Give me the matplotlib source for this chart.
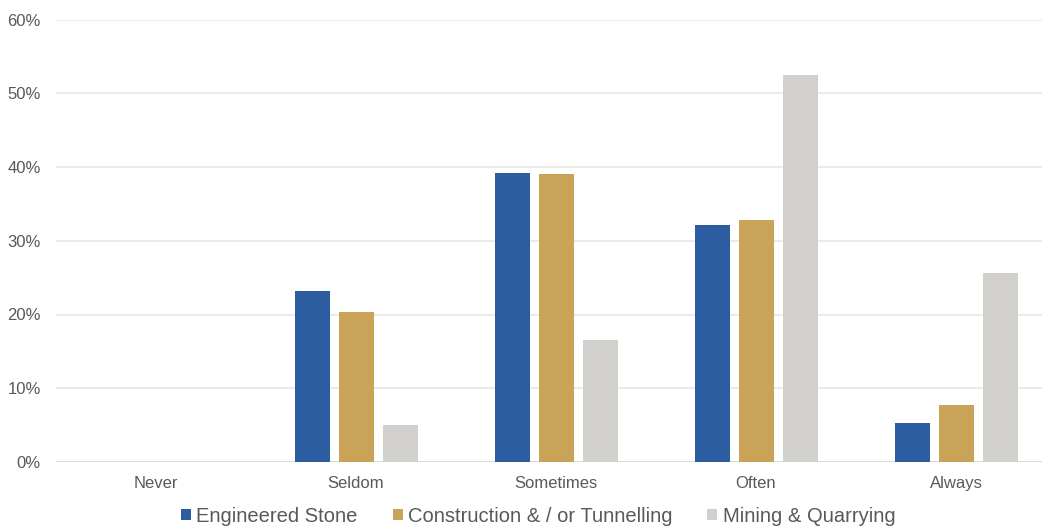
import matplotlib

matplotlib.use("Agg")
import matplotlib.pyplot as plt
import numpy as np
from matplotlib.ticker import PercentFormatter

plt.rcParams["font.family"] = ["Liberation Sans", "DejaVu Sans"]

CATEGORIES = ["Never", "Seldom", "Sometimes", "Often", "Always"]
SERIES = ["Engineered Stone", "Construction & / or Tunnelling", "Mining & Quarrying"]
ENGINEERED_STONE = [0.0, 23.2, 39.2, 32.1, 5.25]
CONSTRUCTION = [0.0, 20.3, 39.05, 32.8, 7.7]
MINING = [0.0, 5.0, 16.6, 52.5, 25.6]
COLORS = ["#2D5DA1", "#C9A458", "#D1D0CD"]

TEXT = "#595959"


def main() -> None:
    fig = plt.figure(figsize=(10.42, 5.29), dpi=100)
    ax = fig.add_axes([56 / 1042, 67 / 529, 986 / 1042, 442.5 / 529])

    x = np.arange(len(CATEGORIES))
    width = 0.175
    step = 0.22
    for i, (name, vals, col) in enumerate(zip(SERIES, [ENGINEERED_STONE, CONSTRUCTION, MINING], COLORS)):
        ax.bar(x + (i - 1) * step, vals, width, color=col, label=name, zorder=3)

    ax.set_xlim(-0.5, -0.5 + 986 / 200)
    ax.set_ylim(0, 60)
    ax.yaxis.set_major_formatter(PercentFormatter(decimals=0))
    ax.set_yticks(range(0, 61, 10))
    ax.set_xticks(x)
    ax.set_xticklabels(CATEGORIES)
    ax.tick_params(axis="both", length=0, labelsize=12, colors=TEXT)
    ax.tick_params(axis="x", pad=10)
    ax.tick_params(axis="y", pad=11)
    ax.grid(axis="y", color="#E6E6E6", linewidth=1.2, zorder=0)
    for s in ax.spines.values():
        s.set_visible(False)
    ax.axhline(0, color="#D9D9D9", linewidth=1.2, zorder=2)

    leg = fig.legend(loc="center", bbox_to_anchor=(538 / 1042, 1 - 516 / 529), ncol=3,
                     frameon=False, fontsize=14.5, handlelength=0.5, handleheight=0.5,
                     handletextpad=0.25, columnspacing=1.75)
    for t in leg.get_texts():
        t.set_color(TEXT)

    fig.savefig("out.png", dpi=100)


if __name__ == "__main__":
    main()
